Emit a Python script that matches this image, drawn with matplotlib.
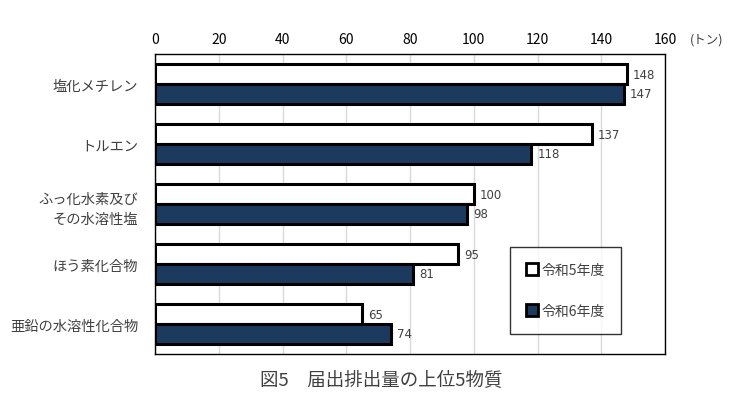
import matplotlib
matplotlib.use("Agg")
import matplotlib.pyplot as plt
import numpy as np
from matplotlib.lines import Line2D

plt.rcParams['font.family'] = ['Noto Sans CJK JP', 'DejaVu Sans']

categories = ["塩化メチレン", "トルエン", "ふっ化水素及び\nその水溶性塩", "ほう素化合物", "亜鉛の水溶性化合物"]
r5 = [148, 137, 100, 95, 65]
r6 = [147, 118, 98, 81, 74]
series_names = ["令和5年度", "令和6年度"]
xticks = [0, 20, 40, 60, 80, 100, 120, 140, 160]
title = "図5　届出排出量の上位5物質"
unit = "(トン)"

dark = "#1B3A5E"
textc = "#404040"

fig = plt.figure(figsize=(7.48, 4.14), dpi=100)
W, H = 748, 414
ax = fig.add_axes([155 / W, 1 - 355 / H, 510 / W, 300 / H])

y = np.arange(len(categories))
h = 0.333
ax.barh(y - h / 2, r5, height=h, color="white", edgecolor="black", linewidth=2.2, zorder=3)
ax.barh(y + h / 2, r6, height=h, color=dark, edgecolor="black", linewidth=2.2, zorder=3)

for yi, v in zip(y, r5):
    ax.text(v + 2.0, yi - h / 2, str(v), va="center", ha="left", fontsize=8.5, color=textc, family="DejaVu Sans")
for yi, v in zip(y, r6):
    ax.text(v + 2.0, yi + h / 2, str(v), va="center", ha="left", fontsize=8.5, color=textc, family="DejaVu Sans")

ax.set_xlim(0, 160)
ax.set_ylim(len(categories) - 0.5, -0.5)
ax.set_xticks(xticks)
ax.xaxis.tick_top()
ax.tick_params(axis="x", length=0, labelsize=10, colors="black", pad=6)
ax.set_yticks(y)
ax.set_yticklabels(categories, fontsize=10.3, color=textc)
ax.tick_params(axis="y", length=0, pad=12)
for lbl in ax.get_yticklabels():
    lbl.set_linespacing(1.6)
    lbl.set_multialignment("right")
ax.grid(axis="x", color="#d9d9d9", linewidth=1, zorder=0)
ax.set_axisbelow(True)
for s in ax.spines.values():
    s.set_color("black")
    s.set_linewidth(1)

fig.text(690 / W, 1 - 40 / H, unit, fontsize=9, color=textc, va="center", ha="left")
fig.text(381 / W, 1 - 381 / H, title, fontsize=13.3, color=textc, va="center", ha="center")

handles = [
    Line2D([], [], marker="s", linestyle="none", markersize=8, markerfacecolor="white", markeredgecolor="black", markeredgewidth=2),
    Line2D([], [], marker="s", linestyle="none", markersize=8, markerfacecolor=dark, markeredgecolor="black", markeredgewidth=2),
]
leg = ax.legend(handles, series_names, loc="center", bbox_to_anchor=(565.5 / W, 1 - 291.5 / H),
                bbox_transform=fig.transFigure, frameon=True, fancybox=False, edgecolor="black",
                fontsize=10, labelspacing=1.95, handlelength=0.8, handletextpad=0.3,
                borderpad=1.15, borderaxespad=0)
leg.get_frame().set_linewidth(1)
for t in leg.get_texts():
    t.set_color(textc)

fig.savefig("out.png", dpi=100)
